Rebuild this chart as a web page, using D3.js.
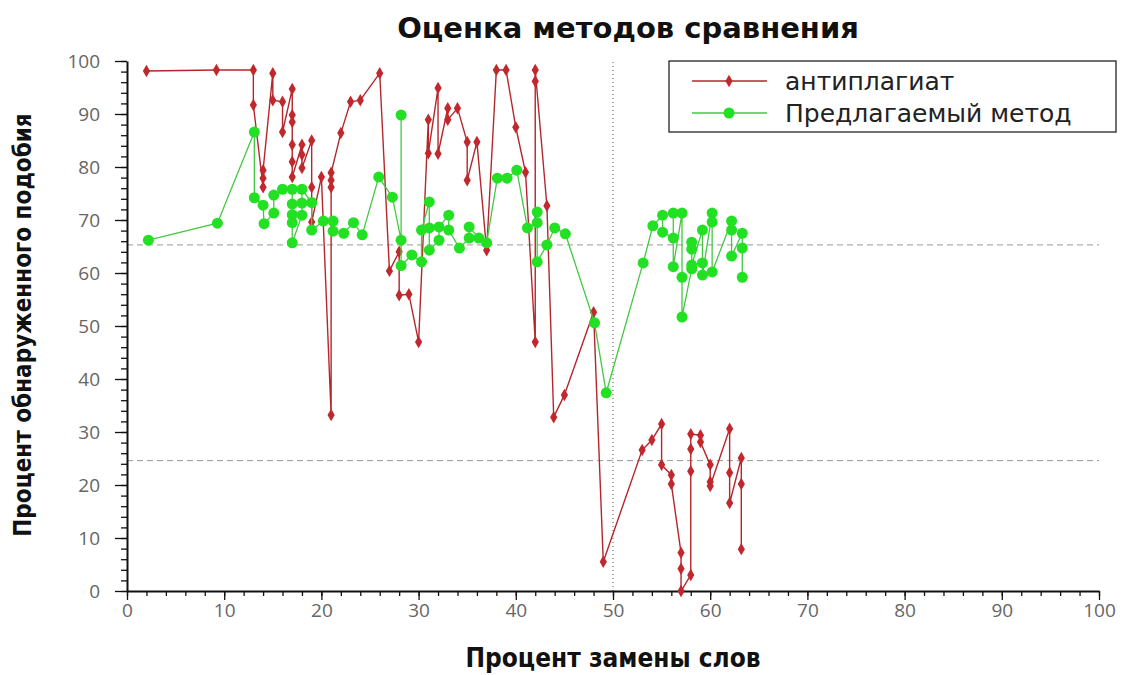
<!DOCTYPE html>
<html>
<head>
<meta charset="utf-8">
<script src="https://cdn.jsdelivr.net/npm/d3@7"></script>
<style>
  body { margin: 0; background: #fff; }
</style>
</head>
<body>
<div id="chart"></div>
<script>
const width = 1126;
const height = 675;

/// data: percent of words replaced vs percent similarity detected
const antiX = [2, 9.2, 13, 13, 14, 14, 14, 15, 15, 16, 16, 17, 17, 17, 17, 17, 17, 18, 18, 18, 19, 19, 19, 20, 21, 21, 21, 21,
  22, 23, 24, 26, 27, 28, 28, 29, 30, 31, 31, 32, 32, 33, 33, 34, 35, 35, 36, 37, 38, 39, 40, 41, 42, 42, 42, 43.2, 43.9, 45,
  48, 49, 53, 54, 55, 55, 56, 56, 57, 57, 57, 58, 58, 58, 58, 59, 59, 60, 60, 60, 62, 62, 62, 63.2, 63.2, 63.2];
const antiY = [98.1, 98.3, 98.3, 91.7, 76.2, 77.9, 79.4, 97.7, 92.6, 92.3, 86.6, 94.7, 89.8, 88.5, 84.2, 81, 78.1, 84.2, 82.3, 79.8, 85, 76.2, 69.6, 78.1, 33.2, 76.2, 77.5, 78.9,
  86.4, 92.3, 92.6, 97.7, 60.4, 64, 55.8, 56, 47, 88.9, 82.6, 94.9, 82.5, 91.1, 88.9, 91.1, 84.7, 77.5, 84.7, 64.3, 98.3, 98.3, 87.5, 79, 47, 96.2, 98.3, 72.7, 32.8, 37,
  52.6, 5.5, 26.6, 28.5, 31.5, 23.8, 21.9, 20.2, 7.2, 4.2, 0, 3, 22.6, 26.8, 29.6, 29.4, 28.1, 23.8, 20.6, 19.8, 30.6, 22.3, 16.6, 25.1, 20.2, 7.9];

const methodX = [2.2, 9.3, 13.1, 13.1, 14, 14.1, 15.1, 15.1, 16, 17, 17, 17, 17, 17, 18, 18, 18, 19, 19, 20.2, 21.2, 21.2, 22.3, 23.3, 24.2,
  25.9, 27.3, 28.2, 28.2, 28.2, 29.3, 30.3, 30.3, 31.1, 31.1, 31.1, 32.1, 32.1, 33.1, 33.1, 34.2, 35.2, 35.2, 36.2, 37, 38.1, 39.1, 40.1,
  41.2, 42.2, 42.2, 42.2, 43.2, 44, 45.1, 48.1, 49.3, 53.1, 54.1, 55.1, 55.1, 56.2, 56.2, 56.2, 57.1, 57.1, 57.1, 58.1, 58.1, 58.1, 58.1,
  59.2, 59.2, 59.2, 60.2, 60.2, 60.2, 62.2, 62.2, 62.2, 63.3, 63.3, 63.3];
const methodY = [66.2, 69.4, 86.6, 74.2, 72.8, 69.3, 71.3, 74.7, 75.8, 75.8, 73, 71, 69.5, 65.7, 70.9, 73.2, 75.8, 73.3, 68.1, 69.8, 69.8, 67.9, 67.5, 69.5, 67.2,
  78.1, 74.3, 66.2, 89.8, 61.4, 63.4, 62.1, 68.1, 73.4, 68.5, 64.3, 66.2, 68.7, 70.9, 68.1, 64.7, 66.6, 68.7, 66.6, 65.7, 77.9, 77.9, 79.4,
  68.5, 69.5, 71.5, 62.1, 65.3, 68.5, 67.4, 50.6, 37.4, 61.9, 68.9, 70.9, 67.7, 66.6, 71.3, 61.2, 71.3, 59.2, 51.7, 60.8, 65.8, 64.5, 61.5,
  68.1, 61.9, 59.6, 71.3, 69.6, 60.2, 69.8, 68.1, 63.2, 67.5, 64.7, 59.2];

const refLevels = [65.3, 24.6];   // horizontal dashed lines
const refX = 50;                  // vertical dotted line
const xTicks = d3.range(0, 101, 10);
const yTicks = d3.range(0, 101, 10);
const minorTicks = d3.range(0, 101, 2);
const seriesNames = ["антиплагиат", "Предлагаемый метод"];

const anti = antiX.map((x, i) => ({ x, y: antiY[i] }));
const method = methodX.map((x, i) => ({ x, y: methodY[i] }));

const plotLeft = 127, plotRight = 1099, plotTop = 61, plotBottom = 591;

const svg = d3.select("#chart")
  .append("svg")
    .attr("width", width)
    .attr("height", height)
    .style("background-color", "#fff")

const x = d3.scaleLinear().domain([0, 100]).range([plotLeft, plotRight]);
const y = d3.scaleLinear().domain([0, 100]).range([plotBottom, plotTop]);

/// reference lines
svg.selectAll(".hline")
  .data(refLevels)
  .join("line")
    .attr("x1", plotLeft).attr("x2", plotRight)
    .attr("y1", d => y(d)).attr("y2", d => y(d))
    .attr("stroke", "#999")
    .attr("stroke-width", 1)
    .attr("stroke-dasharray", "6,4")

svg.append("line")
  .attr("x1", x(refX)).attr("x2", x(refX))
  .attr("y1", y(0)).attr("y2", y(100))
  .attr("stroke", "#555")
  .attr("stroke-width", 1)
  .attr("stroke-dasharray", "1,3")

/// axes: minor ticks first, then major with labels
const tickFont = "'Open Sans', sans-serif";

svg.append("g")
  .attr("transform", `translate(0,${plotBottom})`)
  .call(d3.axisBottom(x).tickValues(minorTicks).tickSize(5).tickFormat("").tickSizeOuter(0))
  .call(g => g.select(".domain").remove())
svg.append("g")
  .attr("transform", `translate(${plotLeft},0)`)
  .call(d3.axisLeft(y).tickValues(minorTicks).tickSize(6).tickFormat("").tickSizeOuter(0))
  .call(g => g.select(".domain").remove())

const xAxis = svg.append("g")
  .attr("transform", `translate(0,${plotBottom})`)
  .call(d3.axisBottom(x).tickValues(xTicks).tickSize(9).tickSizeOuter(0).tickPadding(4))
const yAxis = svg.append("g")
  .attr("transform", `translate(${plotLeft},0)`)
  .call(d3.axisLeft(y).tickValues(yTicks).tickSize(12).tickSizeOuter(0).tickPadding(15))

svg.selectAll(".tick line").attr("stroke", "#111").attr("stroke-width", 1.3)
;[xAxis, yAxis].forEach(a => {
  a.select(".domain").attr("stroke", "#111").attr("stroke-width", 2)
  a.selectAll("text")
    .style("font-family", tickFont)
    .style("font-size", "19px")
    .attr("fill", "#666")
})
yAxis.selectAll("text").attr("dy", "0.36em")

/// series
const line = d3.line().x(d => x(d.x)).y(d => y(d.y));

svg.append("path")
  .datum(anti)
  .attr("fill", "none")
  .attr("stroke", "#b5262c")
  .attr("stroke-width", 1.4)
  .attr("d", line)

const diamond = d3.symbol().type(d3.symbolDiamond).size(45);
svg.selectAll(".anti")
  .data(anti)
  .join("path")
    .attr("class", "anti")
    .attr("transform", d => `translate(${x(d.x)},${y(d.y)})`)
    .attr("d", diamond)
    .attr("fill", "#c0282e")

svg.append("path")
  .datum(method)
  .attr("fill", "none")
  .attr("stroke", "#44c844")
  .attr("stroke-width", 1.3)
  .attr("d", line)

svg.selectAll(".method")
  .data(method)
  .join("circle")
    .attr("class", "method")
    .attr("cx", d => x(d.x))
    .attr("cy", d => y(d.y))
    .attr("r", 5.5)
    .attr("fill", "#22e022")

/// titles
svg.append("text")
  .attr("x", 628).attr("y", 38)
  .attr("text-anchor", "middle")
  .style("font-family", "'DejaVu Sans', sans-serif")
  .style("font-weight", "bold")
  .style("font-size", "29px")
  .attr("fill", "#111")
  .text("Оценка методов сравнения")

svg.append("text")
  .attr("x", 613).attr("y", 667)
  .attr("text-anchor", "middle")
  .style("font-family", "'DejaVu Sans Condensed', 'DejaVu Sans', sans-serif")
  .style("font-stretch", "condensed")
  .style("font-weight", "bold")
  .style("font-size", "26px")
  .attr("fill", "#111")
  .text("Процент замены слов")

svg.append("text")
  .attr("transform", "translate(31,325) rotate(-90)")
  .attr("text-anchor", "middle")
  .style("font-family", "'DejaVu Sans Condensed', 'DejaVu Sans', sans-serif")
  .style("font-stretch", "condensed")
  .style("font-weight", "bold")
  .style("font-size", "24px")
  .attr("fill", "#111")
  .text("Процент обнаруженного подобия")

/// legend
const legend = svg.append("g")
legend.append("rect")
  .attr("x", 669).attr("y", 61)
  .attr("width", 447).attr("height", 71)
  .attr("fill", "#fff")
  .attr("stroke", "#111")
  .attr("stroke-width", 1.2)

const legendRows = [
  { name: seriesNames[0], color: "#b5262c", y: 81 },
  { name: seriesNames[1], color: "#44c844", y: 113 }
];
legendRows.forEach((r, i) => {
  legend.append("line")
    .attr("x1", 692).attr("x2", 767)
    .attr("y1", r.y).attr("y2", r.y)
    .attr("stroke", r.color)
    .attr("stroke-width", 1.4)
  if (i === 0) {
    legend.append("path")
      .attr("transform", `translate(729,${r.y})`)
      .attr("d", diamond)
      .attr("fill", "#c0282e")
  } else {
    legend.append("circle")
      .attr("cx", 729).attr("cy", r.y).attr("r", 5.5)
      .attr("fill", "#22e022")
  }
  legend.append("text")
    .attr("x", 785).attr("y", r.y)
    .attr("dy", "0.35em")
    .style("font-family", "'DejaVu Sans', sans-serif")
    .style("font-size", "25px")
    .attr("fill", "#222")
    .text(r.name)
})
</script>
</body>
</html>
